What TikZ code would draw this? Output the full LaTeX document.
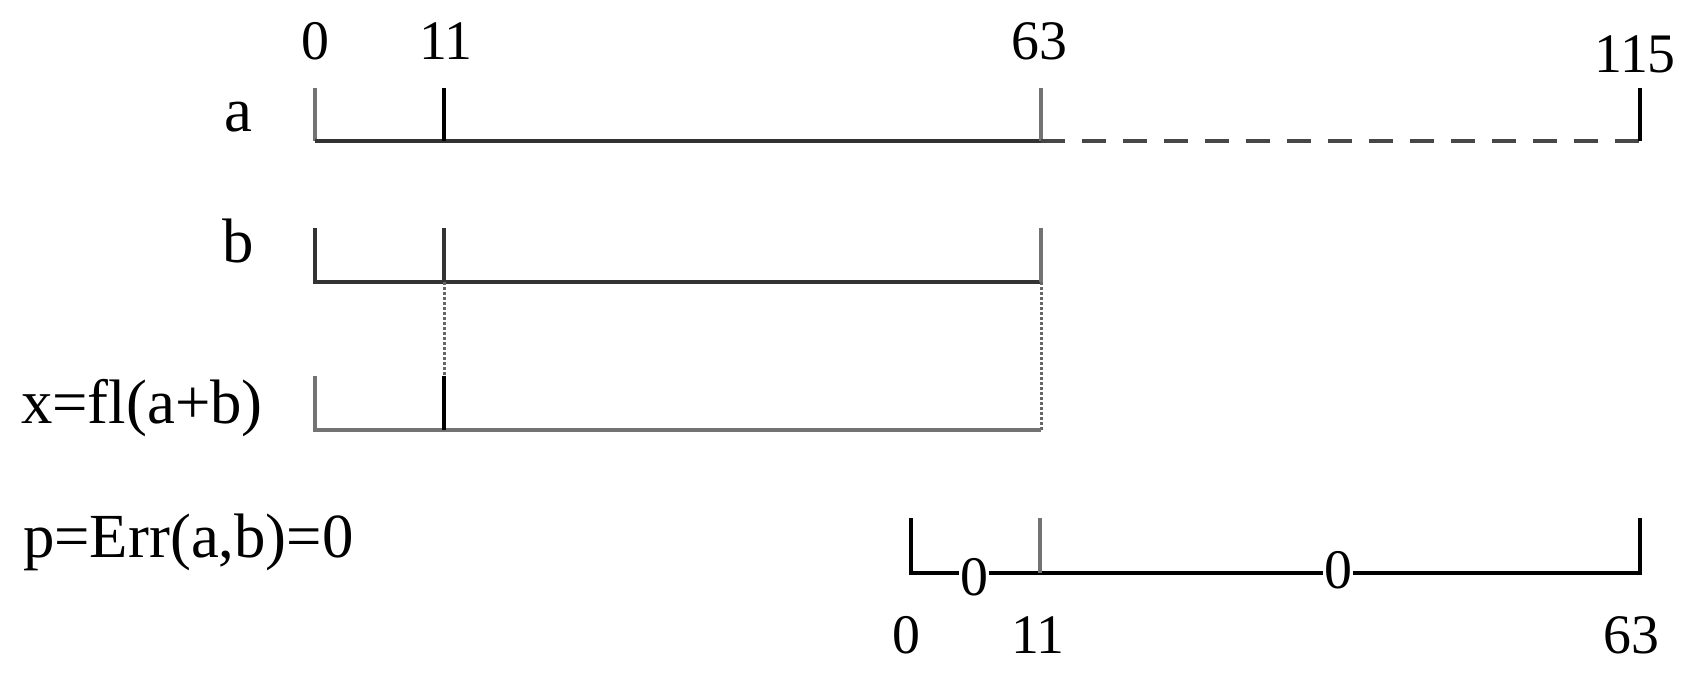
\documentclass[tikz,border=0pt]{standalone}
\usepackage{fontspec}
\setmainfont{Liberation Serif}
\begin{document}
\begin{tikzpicture}[x=1bp,y=-1bp,
  num/.style={font=\fontsize{56}{60}\selectfont, inner sep=0pt, anchor=base},
  lab/.style={font=\fontsize{63}{66}\selectfont, inner sep=0pt, anchor=base},
  onl/.style={font=\fontsize{56}{60}\selectfont, inner sep=1pt, anchor=base, fill=white},
  dk/.style={line width=3.6bp, black!80},
  md/.style={line width=3.8bp, black!55},
  dsh/.style={line width=3.8bp, black!72, dash pattern=on 24bp off 17bp},
  dotl/.style={line width=3bp, black!60, dash pattern=on 2.5bp off 2.5bp}]
\useasboundingbox (0,0) rectangle (1690,674);
% coordinates
\coordinate (a0t) at (315,88);  \coordinate (a0) at (315,141);
\coordinate (a11t) at (444,88); \coordinate (a11) at (444,141);
\coordinate (a63t) at (1041,88); \coordinate (a63) at (1041,141);
\coordinate (a115t) at (1640,88); \coordinate (a115) at (1640,141);
\coordinate (b0t) at (315,228);  \coordinate (b0) at (315,282);
\coordinate (b11t) at (444,228); \coordinate (b11) at (444,282);
\coordinate (b63t) at (1041,228); \coordinate (b63) at (1041,282);
\coordinate (x0t) at (315,376);  \coordinate (x0) at (315,430);
\coordinate (x11t) at (444,376); \coordinate (x11) at (444,430);
\coordinate (x63t) at (1041,376); \coordinate (x63) at (1041,430);
\coordinate (p0t) at (911,518);  \coordinate (p0) at (911,573);
\coordinate (p11t) at (1040,518); \coordinate (p11) at (1040,573);
\coordinate (p63t) at (1640,518); \coordinate (p63) at (1640,573);
% row a
\draw[md] (a0t) -- (a0);
\draw[dk] (a0) -- (a63);
\draw[dk, black] (a11t) -- (a11);
\draw[md] (a63t) -- (a63);
\draw[dsh] (a63) -- (a115);
\draw[dk, black] (a115t) -- (a115);
% row b
\draw[dk] (b0t) -- (b0) -- (b63);
\draw[dk] (b11t) -- (b11);
\draw[md] (b63t) -- (b63);
% dotted links
\draw[dotl] (b11) -- (x11t);
\draw[dotl] (b63) -- (x63);
% row x
\draw[md] (x0t) -- (x0) -- (x63);
\draw[dk, black] (x11t) -- (x11);
% row p
\draw[dk, black] (p0t) -- (p0) -- (p63) -- (p63t);
\draw[md] (p11t) -- (p11);
% labels
\node[num] (t0) at (315,60) {0};
\node[num] (t11) at (446,60) {11};
\node[num] (t63) at (1039,60) {63};
\node[num] (t115) at (1635,73) {115};
\node[lab] (la) at (238,132) {a};
\node[lab] (lb) at (238,262) {b};
\node[lab, anchor=base west] (lx) at (21,423) {x=fl(a+b)};
\node[lab, anchor=base west] (lp) at (23,557) {p=Err(a,b)=0};
\node[onl] (z1) at (974,595) {0};
\node[onl] (z2) at (1338,588) {0};
\node[num] (bt0) at (906,653) {0};
\node[num] (bt11) at (1038,653) {11};
\node[num] (bt63) at (1631,653) {63};
\end{tikzpicture}
\end{document}
